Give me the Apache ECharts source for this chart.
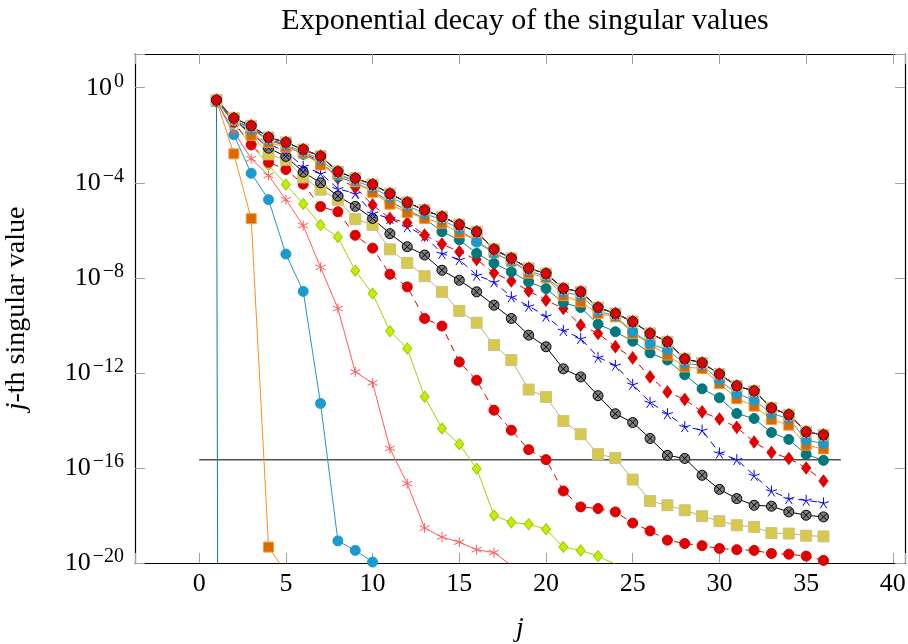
<!DOCTYPE html>
<html>
<head>
<meta charset="utf-8">
<script src="https://cdn.jsdelivr.net/npm/echarts@6/dist/echarts.min.js"></script>
<style>html,body{margin:0;padding:0;background:#fff}#c{width:908px;height:644px}</style>
</head>
<body>
<div id="c"></div>
<script>
// j index (x values)
const jIdx = [1,2,3,4,5,6,7,8,9,10,11,12,13,14,15,16,17,18,19,20,21,22,23,24,25,26,27,28,29,30,31,32,33,34,35,36];
const xTicks = [0,5,10,15,20,25,30,35,40];
const yTickExponents = [0,-4,-8,-12,-16,-20];
const epsLevel = 2.22e-16;
const epsRange = [0, 37];

// log10 of the j-th singular value
const sA = [-0.6, -300];
const sB = [-0.55, -2.78, -5.51, -19.33, -20.4];
const sC = [-0.55, -1.98, -3.6, -4.71, -7.0, -8.57, -13.29, -19.07, -19.47, -19.96, -20.5];
const sD = [-0.55, -1.85, -2.99, -3.69, -4.71, -5.8, -7.56, -9.29, -11.96, -12.42, -15.18, -16.66, -18.53, -18.91, -19.12, -19.44, -19.56, -20.1];
const sE = [-0.55, -1.5, -2.4, -3.25, -4.07, -4.89, -5.78, -6.28, -7.7, -8.66, -10.25, -10.97, -13.0, -14.34, -15.0, -16.03, -18.0, -18.29, -18.37, -18.58, -19.33, -19.47, -19.71, -20.05];
const sF = [-0.55, -1.45, -2.4, -3.14, -3.44, -4.06, -5.0, -5.22, -6.21, -6.75, -7.85, -8.38, -9.71, -10.03, -11.54, -12.31, -13.57, -14.41, -15.23, -15.65, -16.97, -17.64, -17.71, -17.85, -18.32, -18.65, -19.04, -19.18, -19.27, -19.39, -19.44, -19.47, -19.6, -19.63, -19.71, -19.89];
const sG = [-0.55, -1.35, -1.95, -2.8, -3.03, -3.77, -4.29, -4.71, -5.53, -5.77, -6.8, -7.37, -7.93, -8.59, -9.39, -9.89, -10.83, -11.46, -12.7, -13.01, -14.02, -14.58, -15.42, -15.58, -16.49, -17.39, -17.57, -17.78, -18.03, -18.24, -18.41, -18.48, -18.74, -18.76, -18.85, -18.88];
const sH = [-0.55, -1.35, -1.9, -2.54, -2.89, -3.55, -4.0, -4.56, -4.99, -5.5, -6.14, -6.69, -7.04, -7.68, -8.1, -8.59, -9.15, -9.71, -10.41, -10.9, -11.83, -12.17, -12.96, -13.72, -14.09, -14.76, -15.47, -15.6, -16.31, -16.9, -17.29, -17.57, -17.61, -17.85, -17.99, -18.06];
const sI = [-0.55, -1.4, -1.9, -2.35, -2.7, -3.31, -3.6, -4.25, -4.45, -5.28, -5.5, -5.85, -6.24, -6.97, -7.23, -7.89, -8.17, -8.8, -9.19, -9.61, -10.21, -10.55, -11.34, -11.68, -12.48, -13.24, -13.72, -14.26, -14.41, -15.37, -15.65, -16.31, -16.97, -17.29, -17.36, -17.47];
const sJ = [-0.55, -1.3, -1.65, -2.15, -2.4, -2.75, -3.1, -3.8, -4.2, -4.93, -5.5, -5.68, -6.2, -6.58, -6.9, -7.23, -7.8, -8.13, -8.55, -8.94, -9.29, -9.99, -10.34, -10.9, -11.37, -12.17, -12.8, -13.12, -13.64, -13.94, -14.29, -14.91, -15.35, -15.6, -16.0, -16.55];
const sK = [-0.58, -1.35, -1.7, -2.2, -2.45, -2.8, -3.15, -3.75, -4.0, -4.35, -4.8, -5.15, -5.5, -6.06, -6.4, -6.97, -7.39, -7.75, -8.17, -8.45, -9.05, -9.25, -9.95, -10.27, -10.67, -11.16, -11.46, -12.08, -12.67, -13.05, -13.71, -13.92, -14.51, -14.8, -15.43, -15.68];
const sL = [-0.55, -1.35, -2.0, -2.3, -2.5, -2.75, -3.25, -3.65, -3.95, -4.4, -4.9, -5.25, -5.5, -5.7, -6.1, -6.4, -6.95, -7.3, -7.8, -8.0, -8.75, -9.01, -9.5, -9.64, -10.34, -10.79, -11.25, -11.75, -11.82, -12.45, -13.08, -13.4, -13.96, -14.2, -15.04, -15.2];
const sM = [-0.55, -1.35, -1.75, -2.2, -2.4, -2.7, -3.0, -3.65, -3.9, -4.2, -4.6, -4.95, -5.3, -5.55, -5.95, -6.5, -6.95, -7.3, -7.7, -7.95, -8.6, -8.75, -9.4, -9.6, -10.27, -10.76, -11.04, -11.6, -11.68, -12.31, -12.87, -13.15, -13.71, -13.92, -14.83, -14.97];
const sTop = [-0.52, -1.28, -1.6, -2.09, -2.3, -2.6, -2.88, -3.53, -3.81, -4.07, -4.46, -4.83, -5.15, -5.43, -5.76, -6.06, -6.8, -7.18, -7.6, -7.82, -8.45, -8.59, -9.25, -9.5, -9.84, -10.34, -10.69, -11.41, -11.58, -12.05, -12.55, -12.76, -13.48, -13.76, -14.48, -14.61];

const FONT = 'Liberation Serif';
const P_STAR6 = 'path://M0 -10 L0 10 M-8.66 -5 L8.66 5 M-8.66 5 L8.66 -5';
const P_STAR5 = 'path://M0 0 L0 -10 M0 0 L9.51 -3.09 M0 0 L5.88 8.09 M0 0 L-5.88 8.09 M0 0 L-9.51 -3.09';
const P_OTIMES = 'path://M0 -10 A10 10 0 1 1 0 10 A10 10 0 1 1 0 -10 Z M-7.07 -7.07 L7.07 7.07 M7.07 -7.07 L-7.07 7.07';

const styles = {
  teal:   {symbol:'circle', size:10, fill:'#00787e', border:'#00787e', line:'#117f88', dash:'solid'},
  orange: {symbol:'rect', size:10, fill:'#d86a00', border:'#ff9a30', line:'#ff8c1a', dash:'solid'},
  blue:   {symbol:'circle', size:10, fill:'#1a9bcf', border:'#1a9bcf', line:'#2496c2', dash:'solid'},
  salmon: {symbol:P_STAR6, size:10, fill:'#ff5a5a', border:'#ff5a5a', line:'#ff5a5a', dash:'solid'},
  lime:   {symbol:'diamond', size:[9,11], fill:'#c2ee00', border:'#9fcb00', line:'#a2d200', dash:'solid'},
  redc:   {symbol:'circle', size:10, fill:'#e00000', border:'#e00000', line:'#e00000', dash:[7,5]},
  olive:  {symbol:'rect', size:11, fill:'#d7c94b', border:'#cbc089', line:'#bdb07a', dash:'solid'},
  otimes: {symbol:P_OTIMES, size:10, fill:'#7f7f7f', border:'#000000', line:'#000000', dash:'solid'},
  bstar:  {symbol:P_STAR5, size:11, fill:'#0000ff', border:'#0000ff', line:'#0000ff', dash:[7,5]},
  redd:   {symbol:'diamond', size:[9,12], fill:'#e00000', border:'#e00000', line:'#e00000', dash:[7,5]}
};

function mk(vals, st) {
  const s = styles[st];
  return {
    type: 'line',
    data: vals.map((e, i) => [jIdx[i], Math.pow(10, e)]),
    symbol: s.symbol,
    symbolSize: s.size,
    showSymbol: true,
    itemStyle: {color: s.fill, borderColor: s.border, borderWidth: 1},
    lineStyle: {color: s.line, width: 1, type: s.dash},
    emphasis: {disabled: true},
    clip: true,
    animation: false
  };
}

const seriesList = [
  {
    type: 'line',
    data: [[epsRange[0], epsLevel], [epsRange[1], epsLevel]],
    showSymbol: false, symbol: 'none',
    lineStyle: {color: '#505050', width: 1.5},
    emphasis: {disabled: true}, animation: false
  },
  mk(sA, 'teal'), mk(sB, 'orange'), mk(sC, 'blue'), mk(sD, 'salmon'), mk(sE, 'lime'),
  mk(sF, 'redc'), mk(sG, 'olive'), mk(sH, 'otimes'), mk(sI, 'bstar'), mk(sJ, 'redd'),
  mk(sK, 'teal'), mk(sL, 'orange'), mk(sM, 'blue'),
  mk(sTop, 'salmon'), mk(sTop, 'lime'), mk(sTop, 'redc'), mk(sTop, 'olive'),
  mk(sTop, 'otimes'), mk(sTop, 'bstar'), mk(sTop, 'redd')
];

const yMin = 1e-20, yMax = Math.pow(10, 1.42);
const xMin = -3.7, xMax = 40.7;
const tickStyle = {show: true, inside: true, length: 10, lineStyle: {color: '#a0a0a0', width: 1}};
const axLine = {show: true, onZero: false, lineStyle: {color: '#000', width: 1.2}};

function xFmt(v) {
  return xTicks.some(t => Math.abs(t - v) < 1e-6) ? String(Math.round(v)) : '';
}
function yFmt(v) {
  const l = Math.log10(v), e = Math.round(l);
  if (Math.abs(l - e) > 1e-6 || yTickExponents.indexOf(e) < 0) return '';
  const es = e < 0 ? '\u2212' + String(-e) : String(e);
  return '{b|10}{e|' + es + '}';
}

const chart = echarts.init(document.getElementById('c'), null, {renderer: 'canvas'});
chart.setOption({
  backgroundColor: '#ffffff',
  animation: false,
  title: {
    text: 'Exponential decay of the singular values',
    left: 520, top: 1, textAlign: 'center',
    textStyle: {fontFamily: FONT, fontSize: 30, fontWeight: 'normal', color: '#000'}
  },
  grid: {left: 135, right: 3, top: 54, bottom: 81, containLabel: false, outerBoundsMode: 'none'},
  xAxis: [
    {
      type: 'value', min: xMin, max: xMax, splitNumber: 9, minInterval: 5, maxInterval: 5,
      position: 'bottom',
      name: 'j', nameLocation: 'middle', nameGap: 52,
      nameTextStyle: {fontFamily: FONT, fontSize: 28, fontStyle: 'italic', color: '#000'},
      axisLine: axLine, axisTick: tickStyle, splitLine: {show: false},
      axisLabel: {formatter: xFmt, fontFamily: FONT, fontSize: 26, color: '#000', margin: 8}
    },
    {
      type: 'value', min: xMin, max: xMax, splitNumber: 9, minInterval: 5, maxInterval: 5,
      position: 'top',
      axisLine: axLine, axisTick: tickStyle, splitLine: {show: false},
      axisLabel: {show: false}
    }
  ],
  yAxis: [
    {
      type: 'log', logBase: 10, min: yMin, max: yMax, interval: 4,
      position: 'left',
      name: '{i|j}-th singular value', nameLocation: 'middle', nameGap: 104, nameRotate: 90,
      nameTextStyle: {
        fontFamily: FONT, fontSize: 28, color: '#000',
        rich: {i: {fontFamily: FONT, fontSize: 28, fontStyle: 'italic', color: '#000'}}
      },
      axisLine: axLine, axisTick: tickStyle, splitLine: {show: false}, minorTick: {show: false},
      axisLabel: {
        formatter: yFmt, margin: 11, color: '#000',
        rich: {
          b: {fontFamily: FONT, fontSize: 26, lineHeight: 32, color: '#000'},
          e: {fontFamily: FONT, fontSize: 20, lineHeight: 19, verticalAlign: 'top', color: '#000', padding: [0, 0, 0, 2]}
        }
      }
    },
    {
      type: 'log', logBase: 10, min: yMin, max: yMax, interval: 4,
      position: 'right',
      axisLine: axLine, axisTick: tickStyle, splitLine: {show: false}, minorTick: {show: false},
      axisLabel: {show: false}
    }
  ],
  series: seriesList
});
</script>
</body>
</html>
